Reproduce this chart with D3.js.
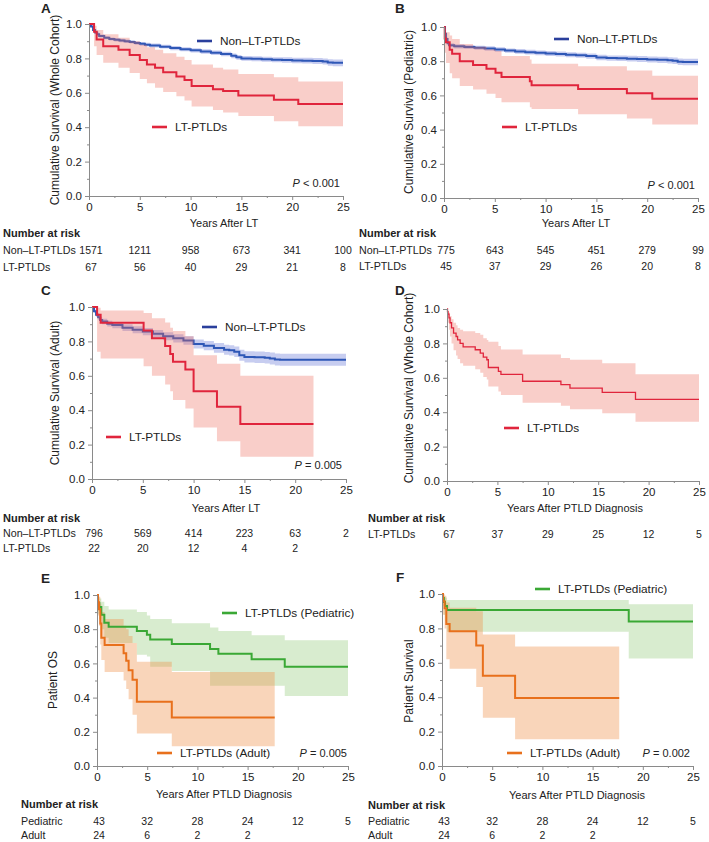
<!DOCTYPE html>
<html><head><meta charset="utf-8">
<script src="https://cdn.jsdelivr.net/npm/d3@7"></script>
<style>
body{margin:0;background:#fff}
svg{display:block}
text{font-family:"Liberation Sans",Arial,Helvetica,sans-serif;fill:#222}
</style>
</head><body>
<svg id="chart" width="709" height="842"></svg>
<script>
// ---------------- DATA ----------------
// each row: [years, survival, lowerCI, upperCI]
const A_non = [[0,1,1,1],[0.2,0.985,0.979,0.991],[0.4,0.965,0.958,0.972],[0.6,0.95,0.942,0.958],[0.8,0.94,0.931,0.949],[1,0.93,0.921,0.939],[1.5,0.92,0.911,0.929],[2,0.913,0.904,0.922],[2.5,0.908,0.898,0.918],[3,0.904,0.894,0.914],[3.5,0.9,0.89,0.91],[4,0.896,0.886,0.906],[4.5,0.89,0.88,0.9],[5,0.885,0.874,0.896],[5.5,0.88,0.869,0.891],[6,0.875,0.864,0.886],[7,0.868,0.857,0.879],[8,0.86,0.848,0.872],[9,0.853,0.841,0.865],[10,0.847,0.835,0.859],[11,0.84,0.827,0.853],[12,0.833,0.82,0.846],[13,0.825,0.812,0.838],[14,0.815,0.801,0.829],[14.5,0.806,0.792,0.82],[15,0.8,0.786,0.814],[16,0.798,0.783,0.813],[17,0.795,0.78,0.81],[18,0.792,0.777,0.807],[19,0.79,0.774,0.806],[20,0.788,0.772,0.804],[21,0.787,0.77,0.804],[22,0.785,0.768,0.802],[23,0.782,0.764,0.8],[23.5,0.776,0.757,0.795],[24,0.774,0.754,0.794],[25,0.774,0.754,0.794]];
const A_lt = [[0,1,1,1],[0.5,0.955,0.87,0.99],[0.75,0.91,0.82,0.965],[1.4,0.87,0.775,0.94],[2.9,0.85,0.745,0.92],[4.0,0.82,0.715,0.9],[5.0,0.79,0.68,0.88],[5.7,0.765,0.655,0.865],[6.5,0.745,0.63,0.85],[7.3,0.72,0.605,0.83],[8.6,0.695,0.58,0.81],[9.4,0.675,0.555,0.79],[10.1,0.64,0.52,0.765],[12.2,0.62,0.5,0.745],[13.2,0.61,0.485,0.735],[14.7,0.585,0.465,0.71],[18.2,0.56,0.435,0.69],[20.6,0.535,0.405,0.665],[25,0.535,0.405,0.665]];

const B_non = [[0,1,1,1],[0.1,0.96,0.952,0.968],[0.2,0.93,0.92,0.94],[0.35,0.905,0.894,0.916],[0.5,0.893,0.881,0.905],[1,0.887,0.875,0.899],[2,0.883,0.871,0.895],[3,0.879,0.867,0.891],[4,0.874,0.861,0.887],[5,0.868,0.855,0.881],[6,0.862,0.849,0.875],[7,0.857,0.843,0.871],[8,0.853,0.839,0.867],[9,0.849,0.835,0.863],[10,0.845,0.831,0.859],[11,0.842,0.828,0.856],[12,0.838,0.823,0.853],[13,0.835,0.82,0.85],[14,0.83,0.815,0.845],[15,0.822,0.806,0.838],[16,0.818,0.802,0.834],[17,0.817,0.801,0.833],[18,0.815,0.798,0.832],[19,0.813,0.796,0.83],[20,0.81,0.793,0.827],[21,0.808,0.79,0.826],[22,0.805,0.787,0.823],[22.5,0.802,0.783,0.821],[23,0.797,0.778,0.816],[23.5,0.795,0.776,0.814],[25,0.795,0.776,0.814]];
const B_lt = [[0,1,1,1],[0.07,0.933,0.85,0.99],[0.2,0.911,0.79,0.97],[0.56,0.867,0.73,0.95],[0.8,0.844,0.70,0.93],[1.55,0.80,0.655,0.9],[2.86,0.778,0.635,0.885],[4.18,0.756,0.61,0.87],[5.07,0.733,0.585,0.86],[5.66,0.708,0.56,0.83],[8.45,0.683,0.53,0.81],[8.62,0.66,0.52,0.785],[13.2,0.637,0.49,0.77],[18.0,0.612,0.465,0.745],[20.5,0.58,0.43,0.715],[25,0.58,0.43,0.715]];

const C_non = [[0,1,1,1],[0.2,0.975,0.966,0.984],[0.4,0.955,0.942,0.968],[0.6,0.94,0.926,0.954],[0.8,0.925,0.91,0.94],[1,0.915,0.899,0.931],[1.5,0.903,0.886,0.92],[2,0.895,0.877,0.913],[3,0.88,0.861,0.899],[4,0.868,0.848,0.888],[5,0.857,0.836,0.878],[6,0.845,0.823,0.867],[7,0.83,0.807,0.853],[8,0.818,0.794,0.842],[9,0.805,0.78,0.83],[10,0.785,0.759,0.811],[11,0.775,0.748,0.802],[12,0.762,0.734,0.79],[13,0.752,0.723,0.781],[13.5,0.748,0.718,0.778],[14,0.74,0.709,0.771],[14.5,0.72,0.688,0.752],[15,0.71,0.677,0.743],[16,0.708,0.674,0.742],[17,0.705,0.671,0.739],[17.5,0.7,0.665,0.735],[18,0.695,0.66,0.73],[18.5,0.693,0.658,0.728],[25,0.693,0.658,0.728]];
const C_lt = [[0,1,1,1],[0.5,0.955,0.74,0.995],[0.85,0.909,0.70,0.98],[5.08,0.864,0.655,0.965],[5.9,0.818,0.60,0.935],[7.2,0.773,0.55,0.91],[7.7,0.727,0.51,0.88],[7.97,0.682,0.46,0.86],[9.19,0.636,0.41,0.83],[10.0,0.51,0.30,0.72],[12.3,0.42,0.22,0.67],[14.6,0.32,0.13,0.60],[21.8,0.32,0.13,0.60]];

const D_lt = [[0,1,1,1],[0.05,0.985,0.95,1.0],[0.1,0.97,0.92,0.99],[0.2,0.948,0.88,0.98],[0.3,0.92,0.84,0.96],[0.45,0.89,0.80,0.94],[0.65,0.86,0.76,0.92],[0.9,0.84,0.73,0.905],[1.05,0.82,0.71,0.89],[1.3,0.80,0.685,0.88],[1.6,0.78,0.67,0.87],[2.8,0.763,0.65,0.86],[3.3,0.744,0.63,0.85],[3.6,0.72,0.605,0.83],[3.95,0.705,0.59,0.82],[4.1,0.66,0.55,0.81],[5.1,0.637,0.52,0.785],[5.35,0.62,0.50,0.765],[7.5,0.58,0.455,0.735],[11.3,0.56,0.437,0.715],[12.2,0.54,0.417,0.705],[15.4,0.515,0.394,0.685],[18.7,0.475,0.345,0.62],[25,0.475,0.345,0.62]];

const E_ped = [[0,1,1,1],[0.1,0.953,0.89,0.99],[0.23,0.93,0.86,0.98],[0.43,0.884,0.80,0.96],[0.73,0.837,0.75,0.935],[1.16,0.814,0.72,0.915],[3.97,0.79,0.65,0.9],[4.97,0.767,0.64,0.88],[5.3,0.74,0.58,0.86],[7.45,0.713,0.555,0.835],[11.26,0.684,0.47,0.81],[12.09,0.656,0.47,0.79],[15.4,0.625,0.47,0.765],[18.7,0.58,0.41,0.735],[25,0.58,0.41,0.735]];
const E_adu = [[0,1,1,1],[0.1,0.958,0.88,1.0],[0.2,0.917,0.82,0.99],[0.33,0.833,0.71,0.95],[0.43,0.75,0.62,0.9],[0.76,0.708,0.55,0.86],[2.65,0.66,0.5,0.82],[2.91,0.615,0.45,0.8],[3.15,0.56,0.39,0.76],[3.54,0.505,0.30,0.72],[3.97,0.376,0.19,0.61],[7.45,0.283,0.115,0.55],[17.7,0.283,0.115,0.55]];

const F_ped = [[0,1,1,1],[0.1,0.977,0.93,1.0],[0.18,0.953,0.88,0.99],[0.3,0.93,0.84,0.98],[0.5,0.907,0.78,0.965],[18.6,0.84,0.625,0.94],[25,0.84,0.625,0.94]];
const F_adu = [[0,1,1,1],[0.1,0.958,0.88,1.0],[0.26,0.917,0.80,0.99],[0.43,0.826,0.62,0.95],[0.76,0.783,0.565,0.92],[3.41,0.70,0.46,0.9],[4.07,0.525,0.28,0.765],[7.28,0.395,0.155,0.695],[17.65,0.395,0.155,0.695]];

// Number at risk
const riskYears = [0,5,10,15,20,25];
const A_riskNon = [1571,1211,958,673,341,100];
const A_riskLT = [67,56,40,29,21,8];
const B_riskNon = [775,643,545,451,279,99];
const B_riskLT = [45,37,29,26,20,8];
const C_riskNon = [796,569,414,223,63,2];
const C_riskLT = [22,20,12,4,2];
const D_riskLT = [67,37,29,25,12,5];
const E_riskPed = [43,32,28,24,12,5];
const E_riskAdu = [24,6,2,2];
const F_riskPed = [43,32,28,24,12,5];
const F_riskAdu = [24,6,2,2];

const xTicks = [0,5,10,15,20,25];
const xMinor = [2.5,7.5,12.5,17.5,22.5];
const yTicks = [0,0.2,0.4,0.6,0.8,1.0];
const yMinor = [0.1,0.3,0.5,0.7,0.9];

// ---------------- STYLES ----------------
const S = {
  blue:{line:"#2e57b6",leg:"#2a3f9c",band:"#5468d0",op:0.33,w:2},
  red:{line:"#e0253c",leg:"#e0253c",band:"#ee6a5a",op:0.33,w:2},
  redThin:{line:"#e0253c",leg:"#e0253c",band:"#ee6a5a",op:0.33,w:1.3},
  green:{line:"#3aa835",leg:"#3aa835",band:"#7fc060",op:0.3,w:2},
  orange:{line:"#e8701c",leg:"#e8701c",band:"#f0904a",op:0.38,w:2}
};

const panels = [
  {letter:"A",lx:41,ly:13,x0:89,x1:343,yt:24,yb:196,ytitle:"Cumulative Survival (Whole Cohort)",ytx:59,yty:110,
   xtitle:"Years After LT",xtx:224,xty:227,
   curves:[{d:A_non,s:S.blue},{d:A_lt,s:S.red}],order:"seq",
   legend:[{s:S.blue,x:197,y:41,t:"Non–LT-PTLDs"},{s:S.red,x:152,y:127,t:"LT-PTLDs"}],
   p:{x:340,y:187,t:"< 0.001"},
   risk:{x:3,yh:237,rows:[{l:"Non–LT-PTLDs",v:A_riskNon,y:254},{l:"LT-PTLDs",v:A_riskLT,y:271}]}},
  {letter:"B",lx:395,ly:13,x0:444,x1:698,yt:27,yb:198,ytitle:"Cumulative Survival (Pediatric)",ytx:413,yty:112,
   xtitle:"Years After LT",xtx:576,xty:227,
   curves:[{d:B_non,s:S.blue},{d:B_lt,s:S.red}],order:"seq",
   legend:[{s:S.blue,x:554,y:39,t:"Non–LT-PTLDs"},{s:S.red,x:502,y:127,t:"LT-PTLDs"}],
   p:{x:695,y:189,t:"< 0.001"},
   risk:{x:359,yh:237,rows:[{l:"Non–LT-PTLDs",v:B_riskNon,y:254},{l:"LT-PTLDs",v:B_riskLT,y:270}]}},
  {letter:"C",lx:41,ly:295,x0:92,x1:346,yt:307,yb:479,ytitle:"Cumulative Survival (Adult)",ytx:59,yty:393,
   xtitle:"Years After LT",xtx:226,xty:512,
   curves:[{d:C_non,s:S.blue},{d:C_lt,s:S.red}],order:"seq",
   legend:[{s:S.blue,x:202,y:327,t:"Non–LT-PTLDs"},{s:S.red,x:106,y:437,t:"LT-PTLDs"}],
   p:{x:342,y:469,t:"= 0.005"},
   risk:{x:3,yh:522,rows:[{l:"Non–LT-PTLDs",v:C_riskNon,y:537},{l:"LT-PTLDs",v:C_riskLT,y:552}]}},
  {letter:"D",lx:395,ly:295,x0:447,x1:699,yt:309,yb:481,ytitle:"Cumulative Survival (Whole Cohort)",ytx:413,yty:388,
   xtitle:"Years After PTLD Diagnosis",xtx:575,xty:512,
   curves:[{d:D_lt,s:S.redThin}],order:"seq",
   legend:[{s:S.redThin,x:504,y:428,t:"LT-PTLDs",lw:2.6}],
   p:null,
   risk:{x:368,yh:522,rows:[{l:"LT-PTLDs",v:D_riskLT,y:538}]}},
  {letter:"E",lx:41,ly:583,x0:97,x1:348,yt:595,yb:766,ytitle:"Patient OS",ytx:57,yty:680,
   xtitle:"Years After PTLD Diagnosis",xtx:224,xty:798,
   curves:[{d:E_ped,s:S.green},{d:E_adu,s:S.orange}],order:"bands",
   legend:[{s:S.green,x:222,y:613,t:"LT-PTLDs (Pediatric)"},{s:S.orange,x:157,y:753,t:"LT-PTLDs (Adult)"}],
   p:{x:347,y:757,t:"= 0.005"},
   risk:{x:21,yh:808,rows:[{l:"Pediatric",v:E_riskPed,y:825},{l:"Adult",v:E_riskAdu,y:839}]}},
  {letter:"F",lx:396,ly:582,x0:442,x1:693,yt:594,yb:766,ytitle:"Patient Survival",ytx:413,yty:681,
   xtitle:"Years After PTLD Diagnosis",xtx:577,xty:799,
   curves:[{d:F_ped,s:S.green},{d:F_adu,s:S.orange}],order:"bands",
   legend:[{s:S.green,x:535,y:589,t:"LT-PTLDs (Pediatric)"},{s:S.orange,x:507,y:753,t:"LT-PTLDs (Adult)"}],
   p:{x:690,y:757,t:"= 0.002"},
   risk:{x:368,yh:809,rows:[{l:"Pediatric",v:F_riskPed,y:825},{l:"Adult",v:F_riskAdu,y:839}]}}
];

const svg = d3.select("#chart");

function drawPanel(P){
  const g = svg.append("g");
  const x = d3.scaleLinear().domain([0,25]).range([P.x0,P.x1]);
  const y = d3.scaleLinear().domain([0,1]).range([P.yb,P.yt]);
  const area = d3.area().x(d=>x(d[0])).y0(d=>y(d[2])).y1(d=>y(d[3])).curve(d3.curveStepAfter);
  const line = d3.line().x(d=>x(d[0])).y(d=>y(d[1])).curve(d3.curveStepAfter);
  const drawBand = c => g.append("path").attr("d",area(c.d)).attr("fill",c.s.band).attr("fill-opacity",c.s.op).attr("stroke","none");
  const drawLine = c => g.append("path").attr("d",line(c.d)).attr("fill","none").attr("stroke",c.s.line).attr("stroke-width",c.s.w).attr("stroke-linejoin","miter");
  if(P.order==="seq"){ P.curves.forEach(c=>{drawBand(c);drawLine(c);}); }
  else { P.curves.forEach(drawBand); P.curves.forEach(drawLine); }

  // axes
  const ya = g.append("g").attr("transform",`translate(${P.x0},0)`)
    .call(d3.axisLeft(y).tickValues(yTicks).tickFormat(d3.format(".1f")).tickSize(4).tickPadding(3));
  const ym = g.append("g").attr("transform",`translate(${P.x0},0)`)
    .call(d3.axisLeft(y).tickValues(yMinor).tickFormat("").tickSize(2));
  const xa = g.append("g").attr("transform",`translate(0,${P.yb})`)
    .call(d3.axisBottom(x).tickValues(xTicks).tickFormat(d3.format("d")).tickSize(4).tickPadding(3));
  const xm = g.append("g").attr("transform",`translate(0,${P.yb})`)
    .call(d3.axisBottom(x).tickValues(xMinor).tickFormat("").tickSize(2));
  [ya,ym,xa,xm].forEach(a=>{
    a.select(".domain").attr("stroke","#8a8a8a").attr("stroke-width",1);
    a.selectAll(".tick line").attr("stroke","#8a8a8a");
    a.selectAll(".tick text").attr("font-size","11.5px").attr("fill","#333").attr("font-family","Liberation Sans, Arial, sans-serif");
  });

  // titles
  g.append("text").attr("x",P.lx).attr("y",P.ly).attr("font-weight","bold").attr("font-size","13.5px").text(P.letter);
  g.append("text").attr("transform",`translate(${P.ytx},${P.yty}) rotate(-90)`).attr("text-anchor","middle")
    .attr("font-size","12px").attr("fill","#333").text(P.ytitle);
  g.append("text").attr("x",P.xtx).attr("y",P.xty).attr("text-anchor","middle").attr("font-size","11px").attr("fill","#333").text(P.xtitle);

  // legend
  P.legend.forEach(L=>{
    g.append("line").attr("x1",L.x).attr("x2",L.x+15).attr("y1",L.y).attr("y2",L.y)
      .attr("stroke",L.s.leg).attr("stroke-width",L.lw||2.6);
    g.append("text").attr("x",L.x+23).attr("y",L.y+4.3).attr("font-size","11.8px").attr("fill","#222").text(L.t);
  });

  // p value
  if(P.p){
    const t = g.append("text").attr("x",P.p.x).attr("y",P.p.y).attr("text-anchor","end").attr("font-size","11px").attr("fill","#222");
    t.append("tspan").attr("font-style","italic").text("P");
    t.append("tspan").text(" " + P.p.t);
  }

  // risk table
  g.append("text").attr("x",P.risk.x).attr("y",P.risk.yh).attr("font-weight","bold").attr("font-size","11px").text("Number at risk");
  P.risk.rows.forEach(r=>{
    g.append("text").attr("x",P.risk.x).attr("y",r.y).attr("font-size","10.7px").attr("fill","#222").text(r.l);
    g.selectAll(null).data(r.v).enter().append("text")
      .attr("x",(d,i)=>x(riskYears[i])+(i===0?2:0)).attr("y",r.y).attr("text-anchor","middle")
      .attr("font-size","10.5px").attr("fill","#222").text(d=>d);
  });
}
panels.forEach(drawPanel);
</script>
</body></html>
